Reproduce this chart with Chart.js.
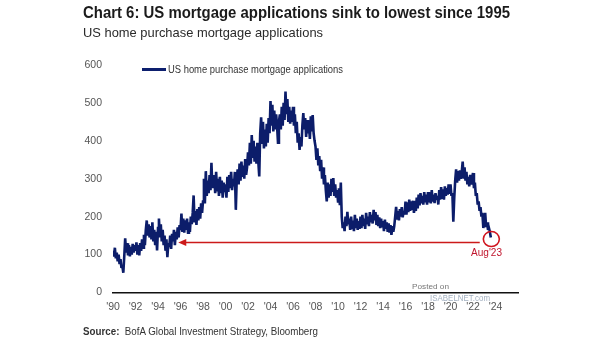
<!DOCTYPE html>
<html><head><meta charset="utf-8">
<script src="https://cdn.jsdelivr.net/npm/chart.js@4.4.1/dist/chart.umd.min.js"></script>
<style>
html,body{margin:0;padding:0;background:#fff;}
#wrap{position:relative;width:605px;height:341px;overflow:hidden;font-family:'Liberation Sans Narrow','Liberation Sans',Arial,sans-serif;}
canvas{position:absolute;left:0;top:0;}
.t{position:absolute;white-space:nowrap;transform-origin:0 50%;line-height:1;}
#legline{position:absolute;left:142px;top:67.8px;width:24px;height:3px;background:#0d1f6e;}
</style></head><body>
<div id="wrap">
<canvas id="c" width="605" height="341"></canvas>
<div class="t" id="title" data-w="427" style="left:83px;top:5px;font-size:16px;font-weight:bold;color:#1b1b1b">Chart 6: US mortgage applications sink to lowest since 1995</div>
<div class="t" id="sub" data-w="240" style="left:83px;top:25.5px;font-size:13px;color:#2a2a2a">US home purchase mortgage applications</div>
<div id="legline"></div>
<div class="t" id="leg" data-w="175" style="left:168px;top:63.5px;font-size:11.5px;color:#333">US home purchase mortgage applications</div>
<div class="t" id="src" data-w="235" style="left:83px;top:325.6px;font-size:10.5px;color:#333"><b>Source:</b>&nbsp; BofA Global Investment Strategy, Bloomberg</div>
<div class="t" id="post" data-w="37" style="left:412px;top:282.5px;font-size:8px;color:#777">Posted on</div>
<div class="t" id="isa" data-w="60" style="left:430px;top:293.5px;font-size:9px;color:#8a9bb0;opacity:0.8">ISABELNET.com</div>
<div class="t" id="aug" data-w="31" style="font-size:11px;color:#c0142c">Aug'23</div>
</div>
<script>
// ---- data (monthly readings, Jan 1990 - Aug 2023) ----
const startYear = 1990;
const pointsPerYear = 12;
const seriesName = "US home purchase mortgage applications";
const values = [
  110,95,118,90,105,82,100,75,88,65,70,52,          // 1990
  95,143,105,130,98,125,95,120,100,128,105,125,     // 1991
  110,132,100,125,98,130,110,140,118,152,125,165,   // 1992
  190,150,180,145,175,140,185,135,165,125,160,111,  // 1993
  170,195,145,180,135,165,125,150,110,140,93,130,   // 1994
  120,150,115,155,135,165,125,160,140,172,145,178,  // 1995
  165,208,160,195,158,190,165,195,158,185,160,200,  // 1996
  180,210,256,185,215,178,220,190,225,195,235,210,  // 1997
  240,300,235,320,255,295,262,310,270,342,275,300,  // 1998
  310,262,318,270,300,255,305,262,295,250,290,265,  // 1999
  285,250,305,265,310,275,318,270,300,280,318,218,  // 2000
  300,325,285,340,295,345,305,335,300,352,310,330,  // 2001
  370,335,395,340,415,355,400,345,385,340,395,345,  // 2002
  306,420,462,395,450,380,430,385,445,395,460,420,  // 2003
  505,440,495,425,480,430,470,440,395,450,470,430,  // 2004
  490,440,500,455,530,470,510,450,490,445,480,450,  // 2005
  490,440,470,420,450,395,420,376,410,385,440,473,  // 2006
  430,460,410,455,420,440,405,465,425,468,420,400,  // 2007
  385,350,380,335,360,320,350,300,330,285,310,270,  // 2008
  240,290,250,285,255,300,265,302,255,285,250,270,  // 2009
  240,275,230,290,200,170,185,162,200,175,213,180,  // 2010
  195,165,200,170,190,162,205,170,195,165,188,168,  // 2011
  200,170,205,175,195,168,210,180,200,175,212,185,  // 2012
  205,182,218,190,212,178,205,175,198,170,195,172,  // 2013
  188,162,192,168,185,160,182,158,178,152,175,160,  // 2014
  175,200,226,195,215,190,220,200,225,198,215,205,  // 2015
  240,205,238,212,245,215,240,218,242,210,235,215,  // 2016
  250,222,258,230,262,235,255,232,265,238,258,232,  // 2017
  265,238,262,235,270,240,258,236,262,245,255,232,  // 2018
  270,245,278,250,272,245,280,255,275,258,285,260,  // 2019
  285,255,262,187,250,295,325,290,320,295,322,300,  // 2020
  318,345,300,330,295,318,285,305,280,310,285,300,  // 2021
  315,275,290,255,262,232,240,215,225,200,210,170,  // 2022
  185,210,172,185,165,170,160,145                   // 2023
];
const xTickYears = [1990,1992,1994,1996,1998,2000,2002,2004,2006,2008,2010,2012,2014,2016,2018,2020,2022,2024];
const xTickLabels = ["'90","'92","'94","'96","'98","'00","'02","'04","'06","'08","'10","'12","'14","'16","'18","'20","'22","'24"];
const yTickLabels = ["0","100","200","300","400","500","600"];
// annotations
const arrowLevel = 132;
const arrowFrom = 2022.6, arrowTo = 1995.8;
const circleAt = {x: 2023.63, y: 141};
const labelAt = {x: 2023.2, y: 103};

const points = values.map((v, i) => ({x: startYear + i / pointsPerYear, y: v}));

const miter = {
  id: 'miter',
  beforeDatasetsDraw(chart) { chart.ctx.save(); chart.ctx.miterLimit = 3; },
  afterDatasetsDraw(chart) { chart.ctx.restore(); }
};

const annot = {
  id: 'annot',
  afterDatasetsDraw(chart) {
    const {ctx, scales: {x, y}} = chart;
    ctx.save();
    ctx.strokeStyle = '#cc1a1a';
    ctx.fillStyle = '#cc1a1a';
    ctx.lineWidth = 1.6;
    const yy = y.getPixelForValue(arrowLevel);
    const x1 = x.getPixelForValue(arrowFrom), x0 = x.getPixelForValue(arrowTo);
    ctx.beginPath(); ctx.moveTo(x1, yy); ctx.lineTo(x0 + 6, yy); ctx.stroke();
    ctx.beginPath(); ctx.moveTo(x0, yy); ctx.lineTo(x0 + 8, yy - 3.5); ctx.lineTo(x0 + 8, yy + 3.5); ctx.closePath(); ctx.fill();
    ctx.strokeStyle = '#d0141e';
    ctx.lineWidth = 1.6;
    ctx.beginPath();
    ctx.ellipse(x.getPixelForValue(circleAt.x), y.getPixelForValue(circleAt.y), 8, 7.5, 0, 0, Math.PI * 2);
    ctx.stroke();
    ctx.restore();
  }
};

const chart = new Chart(document.getElementById('c'), {
  type: 'line',
  data: {
    datasets: [{
      label: seriesName,
      data: points,
      borderColor: '#0c1d6a',
      borderWidth: 2.6,
      borderJoinStyle: 'miter',
      pointRadius: 0,
      tension: 0,
      fill: false
    }]
  },
  options: {
    responsive: false,
    animation: false,
    events: [],
    layout: {padding: {left: 83, right: 87, top: 65, bottom: 28.5}},
    plugins: {legend: {display: false}, tooltip: {enabled: false}, title: {display: false}},
    scales: {
      x: {
        type: 'linear', min: 1990, max: 2026,
        afterFit(s) { s.height = 20; },
        afterBuildTicks(s) { s.ticks = xTickYears.map(v => ({value: v})); },
        grid: {display: false, drawTicks: false},
        border: {display: true, color: '#111', width: 1.6},
        ticks: {
          padding: 8.5, maxRotation: 0, autoSkip: false, color: '#555',
          font: {family: "'Liberation Sans Narrow','Liberation Sans',Arial,sans-serif", size: 10.5},
          callback: (v) => { const i = xTickYears.indexOf(v); return i >= 0 ? xTickLabels[i] : ''; }
        }
      },
      y: {
        min: 0, max: 600,
        afterFit(s) { s.width = 30; },
        grid: {display: false, drawTicks: false},
        border: {display: false},
        ticks: {
          stepSize: 100, padding: 11, color: '#555',
          font: {family: "'Liberation Sans Narrow','Liberation Sans',Arial,sans-serif", size: 10.5},
          callback: (v) => yTickLabels[Math.round(v / 100)]
        }
      }
    }
  },
  plugins: [miter, annot]
});

// place Aug'23 label from the scales
const aug = document.getElementById('aug');
const ax = chart.scales.x.getPixelForValue(labelAt.x);
const ay = chart.scales.y.getPixelForValue(labelAt.y);
aug.style.top = (ay - 6) + 'px';

// fit text widths
document.querySelectorAll('.t[data-w]').forEach(el => {
  const w = el.getBoundingClientRect().width;
  const target = parseFloat(el.dataset.w);
  el.style.transform = 'scaleX(' + (target / w) + ')';
});
aug.style.left = (ax - 15.5) + 'px';
</script>
</body></html>
